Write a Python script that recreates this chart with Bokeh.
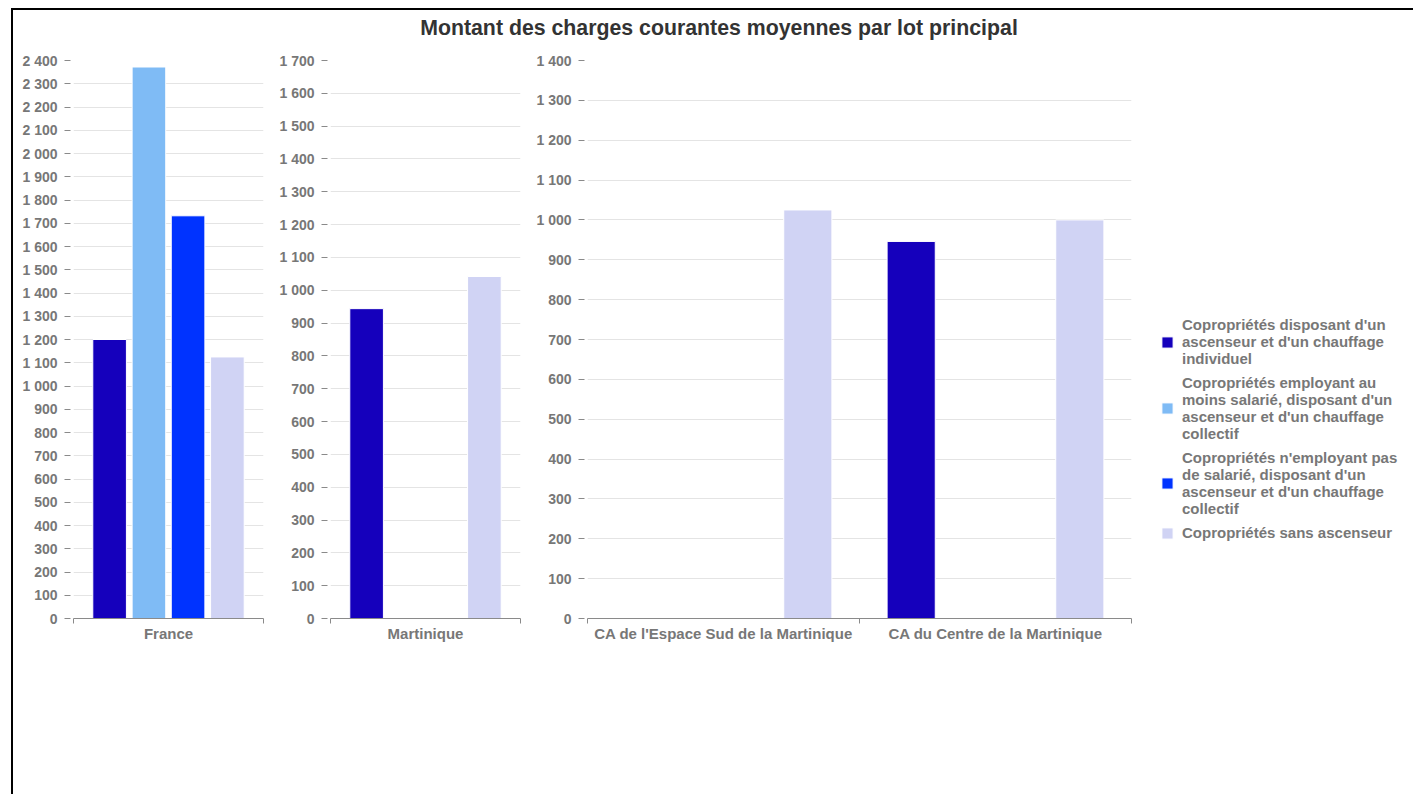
from bokeh.plotting import figure
from bokeh.models import (Range1d, FixedTicker, CustomJSTickFormatter, Legend,
                          LegendItem, Div, ColumnDataSource)
from bokeh.layouts import row, column
from bokeh.transform import dodge
from bokeh.core.properties import value
from bokeh.embed import file_html
from bokeh.resources import INLINE

title = "Montant des charges courantes moyennes par lot principal"

series = [
    "Copropriétés disposant d'un\nascenseur et d'un chauffage\nindividuel",
    "Copropriétés employant au\nmoins salarié, disposant d'un\nascenseur et d'un chauffage\ncollectif",
    "Copropriétés n'employant pas\nde salarié, disposant d'un\nascenseur et d'un chauffage\ncollectif",
    "Copropriétés sans ascenseur",
]
colors = ["#1500BC", "#7FBBF5", "#0033FF", "#D0D3F4"]

# panel 1
france_cats = ["France"]
france_vals = [[1200], [2372], [1732], [1125]]
# panel 2
martinique_cats = ["Martinique"]
martinique_vals = [[944], [None], [None], [1042]]
# panel 3
ca_cats = ["CA de l'Espace Sud de la Martinique", "CA du Centre de la Martinique"]
ca_vals = [[None, 946], [None, None], [None, None], [1025, 1000]]

y_max = [2400, 1700, 1400]
offsets = [-0.31, -0.103, 0.103, 0.31]
BAR_W = 0.177

FONT = "Liberation Sans"
GREY = "#777777"
AXIS_GREY = "#8a8a8a"
NAN = float("nan")


def make_panel(cats, vals, ymax, frame_w, left, right, with_legend=False):
    n = len(cats)
    p = figure(x_range=Range1d(0, n), y_range=Range1d(0, ymax),
               frame_width=frame_w, frame_height=558,
               min_border_left=left, min_border_right=right,
               min_border_top=14, min_border_bottom=176,
               toolbar_location=None, output_backend="svg")
    p.outline_line_color = None
    p.background_fill_color = "white"
    p.border_fill_color = "white"
    p.xgrid.visible = False
    p.ygrid.grid_line_color = "#e4e4e4"
    p.ygrid.grid_line_width = 1

    # y axis
    ya = p.yaxis[0]
    ya.ticker = FixedTicker(ticks=list(range(0, ymax + 1, 100)), minor_ticks=[])
    ya.formatter = CustomJSTickFormatter(
        code="return Math.round(tick).toString().replace(/\\B(?=(\\d{3})+(?!\\d))/g, ' ');")
    ya.axis_line_color = None
    ya.major_tick_out = 9
    ya.major_tick_in = -3
    ya.major_tick_line_color = AXIS_GREY
    ya.major_label_standoff = 7
    ya.major_label_text_font = FONT
    ya.major_label_text_font_style = "bold"
    ya.major_label_text_font_size = "14px"
    ya.major_label_text_color = GREY

    # x axis
    xa = p.xaxis[0]
    xa.ticker = FixedTicker(ticks=[i + 0.5 for i in range(n)],
                            minor_ticks=list(range(n + 1)))
    xa.formatter = CustomJSTickFormatter(args=dict(labels=cats),
                                         code="return labels[Math.floor(tick)];")
    xa.major_tick_out = 0
    xa.major_tick_in = 0
    xa.minor_tick_out = 5
    xa.minor_tick_in = 0
    xa.minor_tick_line_color = AXIS_GREY
    xa.axis_line_color = AXIS_GREY
    xa.major_label_standoff = 1
    xa.major_label_text_font = FONT
    xa.major_label_text_font_style = "bold"
    xa.major_label_text_font_size = "15px"
    xa.major_label_text_color = GREY

    renderers = []
    for s, col in enumerate(colors):
        xs = [i + 0.5 for i in range(n)]
        tops = [NAN if v is None else v for v in vals[s]]
        src = ColumnDataSource(dict(xc=xs, top=tops))
        r = p.vbar(x=dodge("xc", offsets[s]), top="top", bottom=0, width=BAR_W,
                   source=src, fill_color=col, line_color="white", line_width=1)
        renderers.append(r)

    if with_legend:
        items = [LegendItem(label=value(series[s]), renderers=[renderers[s]])
                 for s in range(len(series))]
        leg = Legend(items=items, location=(29, 77),
                     glyph_width=14, glyph_height=14, label_standoff=8,
                     label_text_font=FONT, label_text_font_style="bold",
                     label_text_font_size="15px", label_text_color=GREY,
                     label_text_line_height=1.0, spacing=7, padding=0,
                     margin=29, border_line_color=None,
                     background_fill_alpha=0)
        p.add_layout(leg, "right")
    return p


f1 = make_panel(france_cats, france_vals, y_max[0], 190, 60, 7)
f2 = make_panel(martinique_cats, martinique_vals, y_max[1], 190, 60, 7)
f3 = make_panel(ca_cats, ca_vals, y_max[2], 544, 60, 7, with_legend=True)

title_div = Div(
    text=title, width=1368, height=36, margin=(0, 0, 0, 22),
    styles={"text-align": "center", "font-family": "'Liberation Sans'",
            "font-weight": "bold", "font-size": "21.3px", "color": "#333333",
            "line-height": "36px"})

root = column(title_div, row(f1, f2, f3),
              styles={"border-top": "2px solid black", "border-left": "2px solid black",
                      "margin-top": "8px", "margin-left": "11px"})

open("out.html", "w").write(file_html(root, INLINE))
